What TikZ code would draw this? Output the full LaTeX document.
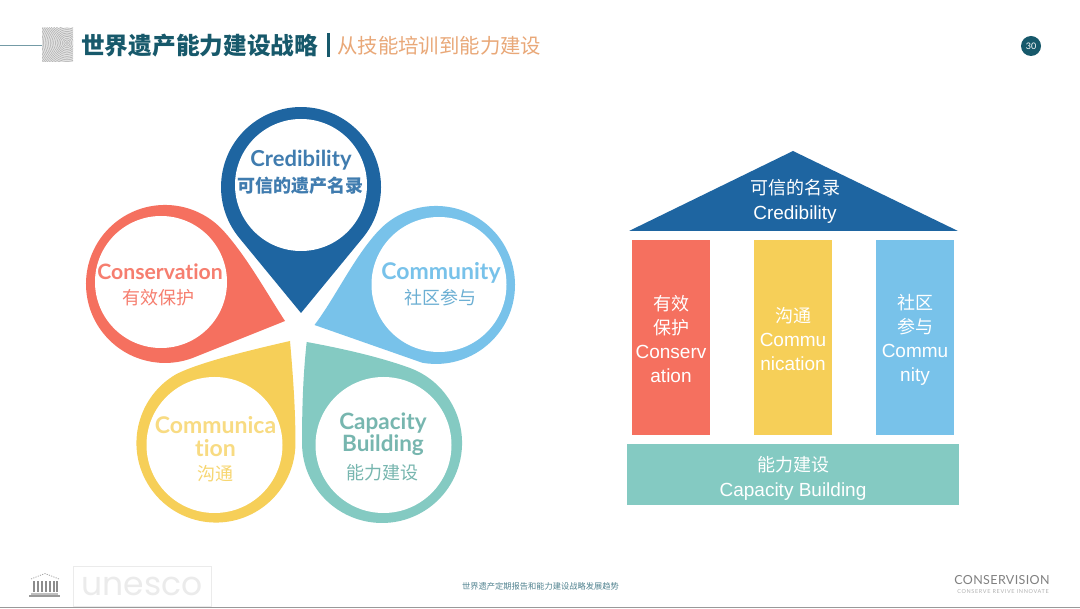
\documentclass[tikz,border=0pt]{standalone}
\usepackage{fontspec}
\setmainfont[Ligatures=NoCommon]{Lato}
\newfontfamily\cjk{Noto Sans CJK SC}
\newfontfamily\helv{Liberation Sans}
\newfontfamily\wide{Poppins}
\definecolor{cblue}{HTML}{1E65A1}
\definecolor{cred}{HTML}{F5705F}
\definecolor{csky}{HTML}{78C2EA}
\definecolor{cyel}{HTML}{F6CF58}
\definecolor{cteal}{HTML}{84CAC2}
\definecolor{cdark}{HTML}{17596B}
\definecolor{corange}{HTML}{E9A878}
\tikzset{x=1pt,y=-1pt,
 ptxt/.style={align=center,inner sep=0pt},
 pcj/.style={align=center,font=\cjk\fontsize{18}{20}\selectfont,inner sep=0pt},
 bar/.style={inner sep=0pt,minimum width=78pt,minimum height=195pt},
 ctxt/.style={align=center,text=white,inner sep=0pt,font=\helv\fontsize{19}{24}\selectfont}}
\begin{document}
\begin{tikzpicture}
\useasboundingbox (0,0) rectangle (1080,609);
\fill[white] (0,0) rectangle (1080,609);
% header
\coordinate (ruleL) at (0,45); \coordinate (ruleR) at (42,45);
\draw[cdark!60,line width=.6pt] (ruleL) -- (ruleR);
\begin{scope}
\clip (42,28) rectangle (73,62);
\fill[black!10] (42,28) rectangle (73,62);
\foreach \rr in {1.5,3.2,...,42} \draw[black!32,line width=.5pt] (67,43) circle[radius=\rr];
\end{scope}
\node[anchor=west,inner sep=0pt,text=cdark,font=\cjk\bfseries\fontsize{23.7}{24}\selectfont] (title) at (81,46) {世界遗产能力建设战略};
\coordinate (barT) at (328.5,33); \coordinate (barB) at (328.5,57);
\draw[cdark,line width=2.2pt] (barT) -- (barB);
\node[anchor=west,inner sep=0pt,text=corange,font=\cjk\fontsize{20.4}{24}\selectfont] (subtitle) at (337,46) {从技能培训到能力建设};
\node[circle,fill=cdark,minimum size=20pt,inner sep=0pt,text=white,font=\fontsize{9}{9}\selectfont] (page) at (1031,46) {30};
% petals
\fill[cblue] (301,313) -- (239.2,237.8) arc[start angle=140.6,end angle=399.4,radius=80] -- cycle;
\fill[white] (301,185) circle[radius=66];
\fill[cred] (285,321) .. controls (266,292) and (247,257) .. (223.7,231.1)
  arc[start angle=318,end angle=68,radius=79] -- cycle;
\fill[white] (161,282) circle[radius=66];
\fill[csky] (314.5,325) .. controls (335,298) and (353.6,258) .. (377.3,232.1)
  arc[start angle=222,end angle=460,radius=79] -- cycle;
\fill[white] (439,284.5) circle[radius=67.5];
\fill[cyel] (290,341) .. controls (255,349) and (200,362) .. (176.2,374.2)
  arc[start angle=240,end angle=0,radius=79.5] .. controls (295.5,410) and (293,375) .. (290,341) -- cycle;
\fill[white] (214.5,445) circle[radius=68];
\fill[cteal] (306.7,342) .. controls (345,349) and (381,357.5) .. (409.4,367.8)
  arc[start angle=290,end angle=540,radius=80] .. controls (302,410) and (303,375) .. (306.7,342) -- cycle;
\fill[white] (383.5,445) circle[radius=68];
% petal labels
\node[ptxt,text=cblue!85,font=\bfseries\fontsize{22}{22}\selectfont] (t1) at (301,160) {Credibility};
\node[pcj,text=cblue!85,font=\cjk\bfseries\fontsize{18}{20}\selectfont] (t1b) at (300,186) {可信的遗产名录};
\node[ptxt,text=cred!90,font=\bfseries\fontsize{21.2}{22}\selectfont] (t2) at (160,272) {Conservation};
\node[pcj,text=cred!90] (t2b) at (158,298) {有效保护};
\node[ptxt,text=csky,font=\bfseries\fontsize{23}{23}\selectfont] (t3) at (441,273) {Community};
\node[pcj,text=csky!90!black] (t3b) at (440,298) {社区参与};
\node[ptxt,text=cyel!75,font=\bfseries\fontsize{23}{23}\selectfont] (t4) at (215.5,437) {Communica\\tion};
\node[pcj,text=cyel!85] (t4b) at (215,474) {沟通};
\node[ptxt,text=cteal!90!black,font=\bfseries\fontsize{22.5}{22}\selectfont] (t5) at (383,434) {Capacity\\Building};
\node[pcj,text=cteal!90!black] (t5b) at (382,473) {能力建设};
% temple
\fill[cblue] (793,151) coordinate (apex) -- (958,231) coordinate (eaveR) -- (629,231) coordinate (eaveL) -- cycle;
\node[ctxt,font=\helv\fontsize{19}{25}\selectfont] (r1) at (795,201.5) {{\cjk\fontsize{18}{25}\selectfont 可信的名录}\\Credibility};
\node[fill=cred,bar] (r2) at (671,337.5) {};
\node[ctxt] (r2t) at (671,339.5) {{\cjk\fontsize{18}{24}\selectfont 有效}\\{\cjk\fontsize{18}{24}\selectfont 保护}\\Conserv\\ation};
\node[fill=cyel,bar] (r3) at (793,337.5) {};
\node[ctxt] (r3t) at (793,339) {{\cjk\fontsize{18}{24}\selectfont 沟通}\\Commu\\nication};
\node[fill=csky,bar] (r4) at (915,337.5) {};
\node[ctxt] (r4t) at (915,339.5) {{\cjk\fontsize{18}{24}\selectfont 社区}\\{\cjk\fontsize{18}{24}\selectfont 参与}\\Commu\\nity};
\node[fill=cteal,minimum width=332pt,minimum height=61pt,inner sep=0pt] (r5) at (793,475) {};
\node[ctxt,font=\helv\fontsize{19}{25}\selectfont] (r5t) at (793,478) {{\cjk\fontsize{18}{25}\selectfont 能力建设}\\Capacity Building};
% footer
\node[inner sep=0pt,text=cdark!75,font=\cjk\fontsize{8.25}{8}\selectfont] (foot) at (540.5,586) {世界遗产定期报告和能力建设战略发展趋势};
% emblem
\fill[black!40] (29,595.5) rectangle (60,597.5);
\fill[black!25] (31,593) rectangle (58,595);
\foreach \xx in {33,37,41,45,49,53,56} \fill[black!45] (\xx,581) rectangle (\xx+1.6,592.5);
\draw[black!35,line width=.8pt,dash pattern=on 1.2pt off 1.2pt] (31,579) -- (45,573.5) -- (59,579);
\node[draw=black!8,minimum width=138pt,minimum height=40pt,inner sep=0pt,text=black!8,font=\wide\fontsize{33}{33}\selectfont] (unesco) at (142,586) {unesco};
\node[inner sep=0pt,text=black!50,font=\addfontfeature{LetterSpace=3}\fontsize{12.5}{12}\selectfont] (cv) at (1002,580) {CONSERVISION};
\node[inner sep=0pt,text=black!30,font=\addfontfeature{LetterSpace=12}\fontsize{5.5}{6}\selectfont] (cv2) at (1003,592) {CONSERVE REVIVE INNOVATE};
\coordinate (fl) at (0,607.5); \coordinate (fr) at (1080,607.5);
\draw[black!40,line width=1.5pt] (fl) -- (fr);
\end{tikzpicture}
\end{document}
